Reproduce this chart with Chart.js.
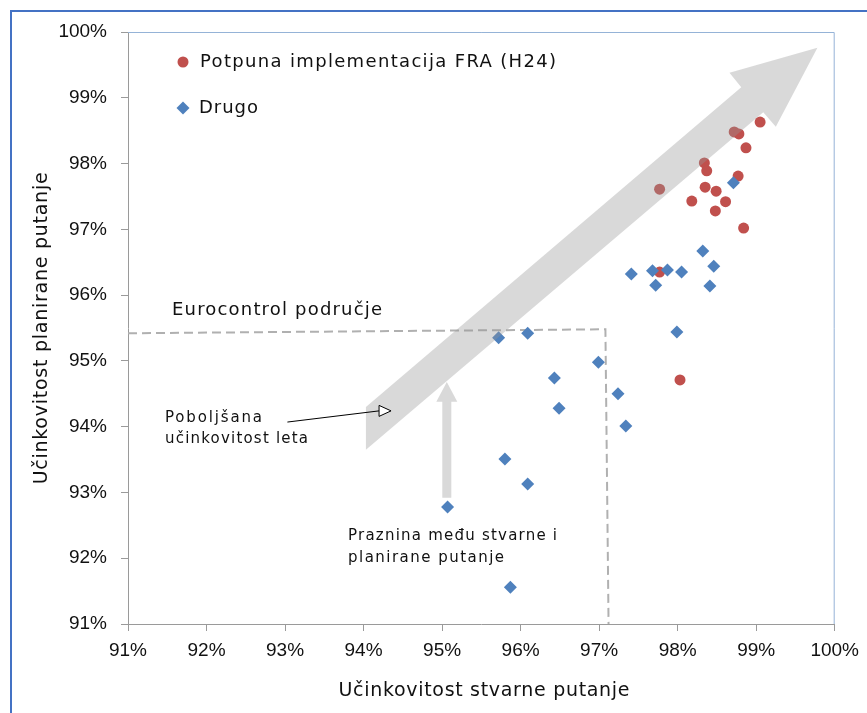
<!DOCTYPE html>
<html>
<head>
<meta charset="utf-8">
<script src="https://cdn.jsdelivr.net/npm/chart.js@4.4.0/dist/chart.umd.min.js"></script>
<style>
  html, body { margin: 0; padding: 0; background: #fff; }
  #wrap { position: relative; width: 867px; height: 713px; overflow: hidden; }
  #frame { position: absolute; left: 10px; top: 10px; width: 900px; height: 800px; border: 2px solid #4472c4; box-sizing: border-box; }
  #chart { position: absolute; left: 0; top: 0; }
</style>
</head>
<body>
<div id="wrap">
  <div id="frame"></div>
  <canvas id="chart" width="867" height="713"></canvas>
</div>
<script>
// Series data (percent)
var fraLabel = 'Potpuna implementacija FRA (H24)';
var fraX = [99.05, 98.72, 98.78, 98.87, 98.34, 98.37, 98.77, 97.77, 98.35, 98.49, 98.18, 98.61, 98.48, 98.84, 97.77, 98.03];
var fraY = [98.63, 98.48, 98.45, 98.24, 98.01, 97.89, 97.81, 97.61, 97.64, 97.58, 97.43, 97.42, 97.28, 97.02, 96.35, 94.71];

var otherLabel = 'Drugo';
var otherX = [98.71, 98.32, 98.46, 98.41, 97.41, 97.68, 97.87, 98.05, 97.72, 97.99, 95.72, 96.09, 96.99, 96.43, 96.49, 97.24, 97.34, 95.80, 96.09, 95.07, 95.87];
var otherY = [97.71, 96.67, 96.44, 96.14, 96.32, 96.37, 96.38, 96.35, 96.15, 95.44, 95.35, 95.42, 94.98, 94.74, 94.28, 94.50, 94.01, 93.51, 93.13, 92.78, 91.56];

// Eurocontrol area boundary (dashed)
var areaX = [91, 97.08, 97.12];
var areaY = [95.42, 95.48, 91];

var axisMin = 91;
var axisMax = 100;
var xTitle = 'Učinkovitost stvarne putanje';
var yTitle = 'Učinkovitost planirane putanje';

function toPoints(xs, ys) {
  return xs.map(function (x, i) { return { x: x, y: ys[i] }; });
}

function pct(v) { return v + '%'; }

var RED = '#c0504d';
var BLUE = '#4f81bd';
var TEXT_FONT = '"DejaVu Sans", sans-serif';

// draw text stretched to a given width with letter spacing
function fitText(ctx, text, x, y, width) {
  ctx.letterSpacing = '0px';
  var w = ctx.measureText(text).width;
  var sp = text.length > 1 ? (width - w) / (text.length - 1) : 0;
  ctx.letterSpacing = sp + 'px';
  ctx.fillText(text, x, y);
  ctx.letterSpacing = '0px';
}

var overlay = {
  id: 'overlay',
  beforeDatasetsDraw: function (chart) {
    var ctx = chart.ctx, a = chart.chartArea;
    ctx.save();
    ctx.strokeStyle = '#95b3d7';
    ctx.lineWidth = 1;
    ctx.beginPath();
    ctx.moveTo(a.left, a.top + 0.5);
    ctx.lineTo(a.right - 0.5, a.top + 0.5);
    ctx.lineTo(a.right - 0.5, a.bottom);
    ctx.stroke();
    ctx.restore();
  },
  afterDatasetsDraw: function (chart) {
    var ctx = chart.ctx, a = chart.chartArea;
    var xs = chart.scales.x, ys = chart.scales.y;
    function px(v) { return xs.getPixelForValue(v); }
    function py(v) { return ys.getPixelForValue(v); }

    ctx.save();

    // big improvement arrow (semi transparent, over the points)
    var big = [[94.03, 94.30], [98.81, 99.16], [98.66, 99.38], [99.78, 99.76],
               [99.25, 98.56], [99.09, 98.78], [94.03, 93.65]];
    ctx.fillStyle = 'rgba(150,150,150,0.36)';
    ctx.beginPath();
    big.forEach(function (p, i) {
      if (i === 0) ctx.moveTo(px(p[0]), py(p[1]));
      else ctx.lineTo(px(p[0]), py(p[1]));
    });
    ctx.closePath();
    ctx.fill();

    // gap arrow (vertical)
    var gx = px(95.06), gBot = py(92.92), gBase = py(94.38), gTip = py(94.68);
    ctx.beginPath();
    ctx.moveTo(gx - 4.5, gBot);
    ctx.lineTo(gx - 4.5, gBase);
    ctx.lineTo(gx - 10.5, gBase);
    ctx.lineTo(gx, gTip);
    ctx.lineTo(gx + 10.5, gBase);
    ctx.lineTo(gx + 4.5, gBase);
    ctx.lineTo(gx + 4.5, gBot);
    ctx.closePath();
    ctx.fill();

    // thin pointer arrow
    var x0 = px(93.03), y0 = py(94.07), x1 = px(94.35), y1 = py(94.24);
    ctx.strokeStyle = '#000';
    ctx.lineWidth = 1;
    ctx.beginPath();
    ctx.moveTo(x0, y0);
    ctx.lineTo(x1 - 12, y1);
    ctx.stroke();
    ctx.fillStyle = '#fff';
    ctx.beginPath();
    ctx.moveTo(x1 - 12, y1 - 5.5);
    ctx.lineTo(x1, y1);
    ctx.lineTo(x1 - 12, y1 + 5.5);
    ctx.closePath();
    ctx.fill();
    ctx.stroke();

    // texts
    ctx.fillStyle = '#111';
    ctx.textAlign = 'left';
    ctx.textBaseline = 'alphabetic';
    ctx.font = '18px ' + TEXT_FONT;
    fitText(ctx, 'Eurocontrol područje', a.left + 44, a.top + 283, 210);

    ctx.font = '15px ' + TEXT_FONT;
    fitText(ctx, 'Poboljšana', a.left + 37, a.top + 390, 97);
    fitText(ctx, 'učinkovitost leta', a.left + 37, a.top + 411, 143);
    fitText(ctx, 'Praznina među stvarne i', a.left + 220, a.top + 508, 209);
    fitText(ctx, 'planirane putanje', a.left + 220, a.top + 530, 156);

    // legend
    ctx.fillStyle = RED;
    ctx.beginPath();
    ctx.arc(a.left + 55, a.top + 30, 5.5, 0, Math.PI * 2);
    ctx.fill();
    ctx.fillStyle = BLUE;
    var dx = a.left + 55, dy = a.top + 76;
    ctx.beginPath();
    ctx.moveTo(dx, dy - 6.5);
    ctx.lineTo(dx + 6.5, dy);
    ctx.lineTo(dx, dy + 6.5);
    ctx.lineTo(dx - 6.5, dy);
    ctx.closePath();
    ctx.fill();

    ctx.fillStyle = '#111';
    ctx.font = '18px ' + TEXT_FONT;
    ctx.textBaseline = 'middle';
    fitText(ctx, fraLabel, a.left + 72, a.top + 30, 356);
    fitText(ctx, otherLabel, a.left + 71, a.top + 76, 59);

    // axis titles
    ctx.font = '19px ' + TEXT_FONT;
    ctx.textAlign = 'center';
    fitText(ctx, xTitle, (a.left + a.right) / 2 + 3, 691, 291);
    ctx.translate(42, (a.top + a.bottom) / 2);
    ctx.rotate(-Math.PI / 2);
    fitText(ctx, yTitle, 0, 0, 312);

    ctx.restore();
  }
};

var axisCommon = {
  type: 'linear',
  min: axisMin,
  max: axisMax,
  border: { display: true, color: '#9a9a9a', width: 1 },
  grid: { display: true, drawOnChartArea: false, drawTicks: true, tickLength: 7, color: '#9a9a9a' },
};

new Chart(document.getElementById('chart'), {
  type: 'scatter',
  data: {
    datasets: [
      {
        label: fraLabel,
        data: toPoints(fraX, fraY),
        pointStyle: 'circle',
        pointRadius: 5.5,
        borderWidth: 0,
        backgroundColor: RED,
        borderColor: RED,
        order: 2,
      },
      {
        label: otherLabel,
        data: toPoints(otherX, otherY),
        pointStyle: 'rectRot',
        pointRadius: 6.5,
        borderWidth: 0,
        backgroundColor: BLUE,
        borderColor: BLUE,
        order: 1,
      },
      {
        label: 'Eurocontrol područje',
        data: toPoints(areaX, areaY),
        showLine: true,
        pointRadius: 0,
        borderColor: '#b0b0b0',
        borderWidth: 2,
        borderDash: [9, 5],
        order: 3,
      },
    ],
  },
  options: {
    responsive: false,
    devicePixelRatio: 1,
    animation: false,
    layout: { padding: { top: 32, right: 28, bottom: 0, left: 0 } },
    plugins: {
      legend: { display: false },
      tooltip: { enabled: false },
    },
    scales: {
      x: Object.assign({}, axisCommon, {
        position: 'bottom',
        afterFit: function (scale) { scale.height = 89; },
        ticks: {
          stepSize: 1,
          padding: 8,
          maxRotation: 0,
          color: '#111',
          font: { family: '"Liberation Sans", Arial, sans-serif', size: 19 },
          callback: pct,
        },
      }),
      y: Object.assign({}, axisCommon, {
        position: 'left',
        afterFit: function (scale) { scale.width = 128; },
        ticks: {
          stepSize: 1,
          padding: 14,
          color: '#111',
          font: { family: '"Liberation Sans", Arial, sans-serif', size: 19 },
          callback: pct,
        },
      }),
    },
  },
  plugins: [overlay],
});
</script>
</body>
</html>
